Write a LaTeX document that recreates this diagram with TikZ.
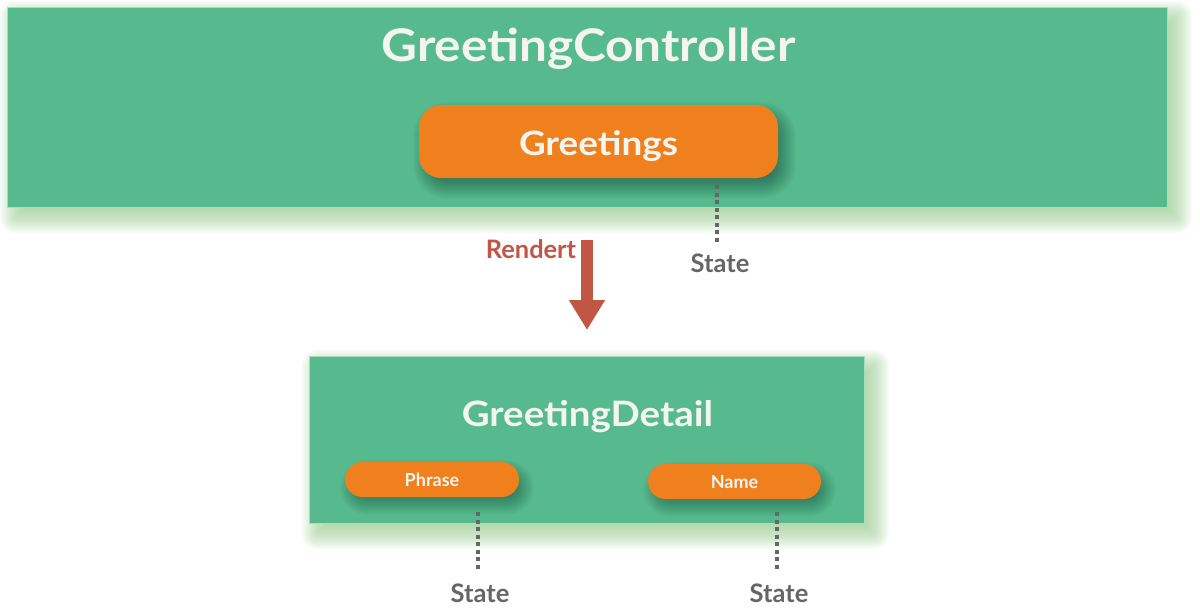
\documentclass[tikz,border=0pt]{standalone}
\usepackage{fontspec}
\setmainfont{Lato}
\newfontfamily\widefont{Lato}[FakeStretch=1.1]
\usetikzlibrary{arrows.meta,calc}
\pgfdeclarelayer{bg}
\pgfdeclarelayer{fg}
\pgfsetlayers{bg,main,fg}
\definecolor{boxgreen}{RGB}{87,186,143}
\definecolor{edgegreen}{RGB}{170,220,190}
\definecolor{shadowgreen}{RGB}{150,205,140}
\definecolor{pillorange}{RGB}{240,128,30}
\definecolor{txtwhite}{RGB}{245,245,240}
\definecolor{stategray}{RGB}{102,102,102}
\definecolor{arrowred}{RGB}{192,86,68}
\tikzset{
  greenbox/.style={rectangle, fill=boxgreen, draw=edgegreen, line width=0.8pt},
  pill/.style={rectangle, fill=pillorange, inner sep=0pt, text=txtwhite, text depth=0pt},
  title/.style={text=txtwhite, inner sep=0pt, anchor=base},
  statelbl/.style={font=\bfseries\fontsize{25.5}{30}\selectfont, text=stategray, inner sep=0pt, anchor=base},
  statelink/.style={draw=stategray, line width=4pt, dash pattern=on 4pt off 3.5pt},
}
% soft shadow of a named node:
% #1 layer, #2 node, #3 colour, #4 x offset, #5 y offset, #6 inner steps, #7 outer steps, #8 opacity per step, #9 corner radius
\newcommand{\softshade}[9]{%
  \begin{pgfonlayer}{#1}
  \foreach \k in {-#6,...,#7}{%
    \pgfmathsetmacro{\rr}{max(#9+\k,0.5)}
    \fill[#3, opacity=#8, rounded corners=\rr pt]
      ($(#2.north west)+(#4-\k,#5-\k)$) rectangle ($(#2.south east)+(#4+\k,#5+\k)$);
  }
  \end{pgfonlayer}}
\begin{document}
\begin{tikzpicture}[x=1pt,y=-1pt]
\useasboundingbox (0,0) rectangle (1200,610);
\begin{pgfonlayer}{bg}
\fill[white] (0,0) rectangle (1200,610);
\end{pgfonlayer}
% top controller
\node[greenbox, minimum width=1160pt, minimum height=200pt] (ctrl) at (587,107) {};
\softshade{bg}{ctrl}{shadowgreen}{9}{10}{8}{16}{0.04}{0}
\node[title, font=\widefont\bfseries\fontsize{45}{50}\selectfont] (ctrltitle) at (588.5,62) {GreetingController};
\begin{pgfonlayer}{fg}
\node[pill, rounded corners=22pt, minimum width=359pt, minimum height=73pt, text height=27pt, font=\widefont\bfseries\fontsize{33.5}{38}\selectfont] (greet) at (598.5,141.5) {Greetings};
\end{pgfonlayer}
\softshade{main}{greet}{black}{6}{9}{10}{12}{0.016}{22}
% state of Greetings
\coordinate (s1top) at (717,185);
\coordinate (s1bot) at (717,243);
\node[statelbl] (state1) at (720,272) {State};
\draw[statelink] (s1top) -- (s1bot);
% render arrow
\coordinate (arrS) at (587,240);
\coordinate (arrE) at (587,330);
\draw[arrowred, line width=12pt, -{Triangle[width=34pt,length=30pt]}] (arrS) -- (arrE);
\node[font=\bfseries\fontsize{25.4}{30}\selectfont, text=arrowred, inner sep=0pt, anchor=base] (rendert) at (531,258) {Rendert};
% bottom detail
\node[greenbox, minimum width=555pt, minimum height=167pt] (detail) at (586.5,439.5) {};
\softshade{bg}{detail}{shadowgreen}{9}{10}{8}{16}{0.04}{0}
\node[title, font=\widefont\bfseries\fontsize{35}{40}\selectfont] (detailtitle) at (587.5,426) {GreetingDetail};
\begin{pgfonlayer}{fg}
\node[pill, rounded corners=17.5pt, minimum width=174pt, minimum height=35pt, text height=13pt, font=\bfseries\fontsize{18}{21}\selectfont] (phrase) at (432,479.5) {Phrase};
\node[pill, rounded corners=17.5pt, minimum width=173pt, minimum height=35pt, text height=13pt, font=\bfseries\fontsize{18}{21}\selectfont] (name) at (734.5,481.5) {Name};
\end{pgfonlayer}
\softshade{main}{phrase}{black}{5}{8}{8}{10}{0.016}{17.5}
\softshade{main}{name}{black}{5}{8}{8}{10}{0.016}{17.5}
% states of pills
\coordinate (s2top) at (478,512);
\coordinate (s2bot) at (478,570);
\node[statelbl] (state2) at (480,602) {State};
\draw[statelink] (s2top) -- (s2bot);
\coordinate (s3top) at (777,512);
\coordinate (s3bot) at (777,570);
\node[statelbl] (state3) at (779,602) {State};
\draw[statelink] (s3top) -- (s3bot);
\end{tikzpicture}
\end{document}
